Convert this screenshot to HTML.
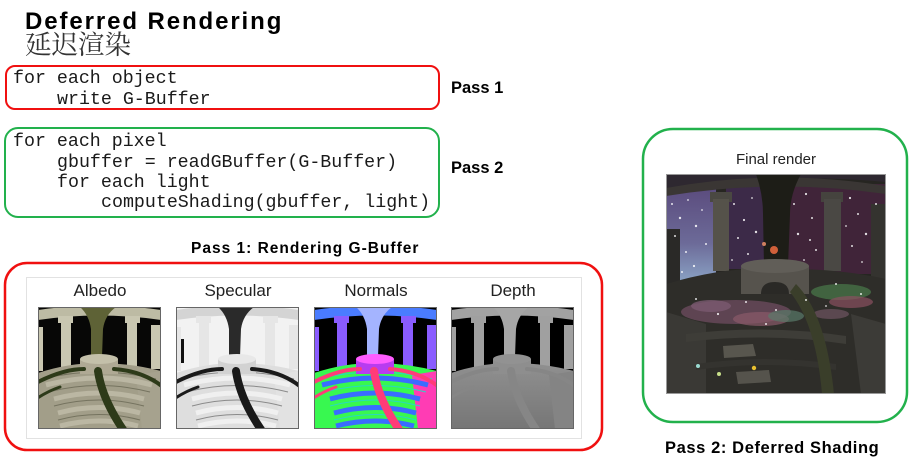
<!DOCTYPE html>
<html><head><meta charset="utf-8"><style>
html,body{margin:0;padding:0;background:#fff;}
body{width:913px;height:463px;overflow:hidden;}
svg text{font-family:"Liberation Sans",Arial,sans-serif;}
</style></head><body>
<svg width="913" height="463" viewBox="0 0 913 463" xmlns="http://www.w3.org/2000/svg">
<defs>
<symbol id="scene" viewBox="0 0 123 122">
<rect width="123" height="122" style="fill:var(--sky)"/>
<rect x="0" y="32" width="8" height="24" style="fill:var(--blot)"/>
<path d="M0 3 Q61 -6 123 3 L123 13 Q61 4 0 13 Z" style="fill:var(--arch)"/>
<rect x="113" y="18" width="10" height="44" style="fill:var(--col)"/>
<rect x="0" y="20" width="5" height="44" style="fill:var(--col)"/>
<rect x="20" y="9" width="15" height="7" style="fill:var(--col)"/>
<rect x="23" y="15" width="10" height="46" style="fill:var(--col)"/>
<rect x="87" y="9" width="15" height="7" style="fill:var(--col)"/>
<rect x="89" y="15" width="10" height="46" style="fill:var(--col)"/>
<path d="M42 0 L78 0 Q67 8 65 22 L64 50 L53 50 L53 22 Q51 8 42 0 Z" style="fill:var(--tree)"/>
<path d="M0 66 Q30 56 61 56 Q92 56 123 64 L123 122 L0 122 Z" style="fill:var(--floor)"/>
<path d="M98 68 L123 64 L123 122 L104 122 Z" style="fill:var(--side)"/>
<g fill="none" style="stroke:var(--stair)" stroke-width="5">
<path d="M8 78 Q61 64 114 78"/>
<path d="M16 92 Q61 80 106 92"/>
<path d="M20 106 Q61 95 102 106"/>
<path d="M22 119 Q61 109 100 119"/>
</g>
<g fill="none" style="stroke:var(--line)" stroke-width="1">
<path d="M4 72 Q61 58 118 72"/>
<path d="M10 85 Q61 72 112 85"/>
<path d="M16 99 Q61 87 106 99"/>
<path d="M20 113 Q61 102 102 113"/>
</g>
<rect x="42" y="52" width="38" height="15" style="fill:var(--well)"/>
<ellipse cx="61" cy="52" rx="19" ry="5" style="fill:var(--welltop)"/>
<g fill="none" style="stroke:var(--vine)" stroke-linecap="round">
<path d="M60 64 Q64 92 86 124" stroke-width="8"/>
<path d="M-2 76 Q25 62 46 62" stroke-width="4"/>
<path d="M76 62 Q105 64 125 80" stroke-width="4"/>
<path d="M-2 92 Q10 84 22 80" stroke-width="3"/>
</g>
</symbol>
<clipPath id="fr"><rect width="220" height="220"/></clipPath>
<linearGradient id="lsky" x1="0" y1="0" x2="0" y2="1"><stop offset="0" stop-color="#5a4a7c"/><stop offset="0.6" stop-color="#6c6a98"/><stop offset="1" stop-color="#8aa2c4"/></linearGradient>
<linearGradient id="dfl" x1="0" y1="0" x2="0" y2="1"><stop offset="0" stop-color="#909090"/><stop offset="1" stop-color="#767676"/></linearGradient>
</defs>

<!-- Title -->
<text x="25" y="29" font-size="24" font-weight="bold" letter-spacing="1.9" fill="#000">Deferred Rendering</text>
<text x="25" y="54" font-size="26.5" fill="#333" style="font-family:'Noto Serif CJK SC','Noto Sans CJK SC',serif">延迟渲染</text>

<!-- Code boxes -->
<rect x="6" y="66" width="433" height="43" rx="9" fill="none" stroke="#f01010" stroke-width="2"/>
<rect x="5" y="128" width="434" height="89" rx="13" fill="none" stroke="#22b14c" stroke-width="2"/>
<g font-size="18.3" fill="#1a1a1a">
<text x="13" y="83" style="font-family:'Liberation Mono',monospace">for each object</text>
<text x="57" y="104" style="font-family:'Liberation Mono',monospace">write G-Buffer</text>
<text x="13" y="146" style="font-family:'Liberation Mono',monospace">for each pixel</text>
<text x="57" y="167" style="font-family:'Liberation Mono',monospace">gbuffer = readGBuffer(G-Buffer)</text>
<text x="57" y="187" style="font-family:'Liberation Mono',monospace">for each light</text>
<text x="101" y="207" style="font-family:'Liberation Mono',monospace">computeShading(gbuffer, light)</text>
</g>
<text x="451" y="93" font-size="16.5" font-weight="bold" fill="#000">Pass 1</text>
<text x="451" y="173" font-size="16.5" font-weight="bold" fill="#000">Pass 2</text>

<!-- Pass 1 section -->
<text x="191" y="253" font-size="15.5" font-weight="bold" letter-spacing="1" fill="#000">Pass 1: Rendering G-Buffer</text>
<rect x="5" y="263" width="597" height="187" rx="22" fill="none" stroke="#f01010" stroke-width="2.5"/>
<rect x="26.5" y="277.5" width="555" height="161" fill="#fff" stroke="#e2e2e2" stroke-width="1"/>
<g font-size="17" fill="#222" text-anchor="middle">
<text x="100" y="296">Albedo</text>
<text x="238" y="296">Specular</text>
<text x="376" y="296">Normals</text>
<text x="513" y="296">Depth</text>
</g>

<use href="#scene" x="38" y="307" width="123" height="122" style="--sky:#070706;--blot:#070706;--arch:#bdbba4;--col:#c9c7b1;--tree:#5e6236;--floor:#a29e89;--side:#a6a28e;--stair:#bbb7a3;--line:#75735f;--well:#afa994;--welltop:#c4c0aa;--vine:#2d3a19"/>
<use href="#scene" x="176" y="307" width="123" height="122" style="--sky:#f2f2f2;--blot:#111;--arch:#d4d4d4;--col:#e6e6e6;--tree:#2a2a2a;--floor:#dedede;--side:#e2e2e2;--stair:#f0f0f0;--line:#8a8a8a;--well:#d2d2d2;--welltop:#e8e8e8;--vine:#1a1a1a"/>
<use href="#scene" x="314" y="307" width="123" height="122" style="--sky:#000;--blot:#000;--arch:#4a7cff;--col:#8a5cff;--tree:#a4b4ff;--floor:#38f850;--side:#ff3cb4;--stair:#3a6cff;--line:#2ad8c0;--well:#b83cf0;--welltop:#ff5cff;--vine:#ff3c78"/>
<use href="#scene" x="451" y="307" width="123" height="122" style="--sky:#000;--blot:#000;--arch:#a2a2a2;--col:#a0a0a0;--tree:#a6a6a6;--floor:url(#dfl);--side:#848484;--stair:transparent;--line:transparent;--well:#8e8e8e;--welltop:#929292;--vine:#868686"/>
<g fill="none" stroke="#666" stroke-width="1">
<rect x="38.5" y="307.5" width="122" height="121"/>
<rect x="176.5" y="307.5" width="122" height="121"/>
<rect x="314.5" y="307.5" width="122" height="121"/>
<rect x="451.5" y="307.5" width="122" height="121"/>
</g>

<!-- Pass 2 section -->
<rect x="643" y="129" width="264" height="293" rx="30" fill="none" stroke="#22b14c" stroke-width="2.5"/>
<text x="776" y="164" font-size="15" fill="#222" text-anchor="middle">Final render</text>
<g transform="translate(666,174)">
<g clip-path="url(#fr)">
<rect width="220" height="220" fill="#262521"/>
<rect x="0" y="10" width="50" height="98" fill="url(#lsky)"/>
<rect x="60" y="10" width="40" height="85" fill="#3c2a48"/>
<rect x="120" y="10" width="100" height="90" fill="#402439"/>
<path d="M0 0 L220 0 L220 8 Q110 -2 0 16 Z" fill="#2e2830"/>
<path d="M0 14 Q110 -6 220 12 L220 20 Q110 4 0 22 Z" fill="#3a3634"/>
<rect x="0" y="55" width="14" height="60" fill="#2a2927"/>
<rect x="44" y="18" width="22" height="10" fill="#4a4842"/>
<rect x="47" y="25" width="16" height="72" fill="#55524a"/>
<rect x="155" y="18" width="22" height="10" fill="#45433e"/>
<rect x="158" y="25" width="17" height="72" fill="#4a4844"/>
<rect x="205" y="30" width="15" height="80" fill="#34332f"/>
<path d="M90 0 L135 0 Q124 20 124 40 L122 92 L98 92 L97 40 Q97 20 90 0 Z" fill="#1d1d17"/>
<path d="M0 110 Q60 92 110 95 Q170 94 220 105 L220 220 L0 220 Z" fill="#2e2d29"/>
<ellipse cx="70" cy="138" rx="55" ry="12" fill="#6a4a5c" opacity="0.8"/>
<ellipse cx="45" cy="132" rx="20" ry="6" fill="#7a5a70" opacity="0.8"/>
<ellipse cx="95" cy="145" rx="28" ry="7" fill="#8a5a6a" opacity="0.7"/>
<ellipse cx="120" cy="142" rx="18" ry="6" fill="#5a7a6a" opacity="0.7"/>
<ellipse cx="175" cy="118" rx="30" ry="8" fill="#4a7a4a" opacity="0.7"/>
<ellipse cx="185" cy="128" rx="22" ry="6" fill="#8a5060" opacity="0.7"/>
<ellipse cx="165" cy="140" rx="18" ry="5" fill="#7a5a6a" opacity="0.6"/>
<rect x="75" y="92" width="68" height="28" fill="#56534d"/>
<ellipse cx="109" cy="92" rx="34" ry="7" fill="#615e58"/>
<path d="M95 120 Q95 108 109 108 Q123 108 123 120 Z" fill="#2a2926"/>
<path d="M0 138 L40 150 L40 220 L0 220 Z" fill="#3a3935"/>
<path d="M20 160 Q100 150 180 162 L180 170 Q100 158 20 168 Z" fill="#3e3d38"/>
<path d="M30 190 Q100 180 170 190 L170 196 Q100 186 30 196 Z" fill="#34332f"/>
<path d="M57 172 L87 170 L90 182 L58 184 Z" fill="#58564e"/>
<path d="M70 198 L103 196 L105 208 L72 210 Z" fill="#55534c"/>
<path d="M130 110 Q160 140 168 220 L156 220 Q150 150 124 118 Z" fill="#3a3e2a"/>
<path d="M185 140 L220 150 L220 220 L195 220 Z" fill="#3c3b37"/>
<g fill="#fff" opacity="0.85">
<circle cx="6" cy="30" r="1"/><circle cx="14" cy="44" r="1.2"/><circle cx="22" cy="26" r="0.9"/><circle cx="9" cy="62" r="1"/><circle cx="30" cy="52" r="1.2"/><circle cx="20" cy="78" r="1"/><circle cx="36" cy="36" r="0.9"/><circle cx="28" cy="92" r="1.1"/><circle cx="40" cy="70" r="1"/><circle cx="16" cy="98" r="1"/>
<circle cx="68" cy="30" r="1"/><circle cx="78" cy="46" r="1.1"/><circle cx="86" cy="24" r="0.9"/><circle cx="72" cy="64" r="1"/><circle cx="90" cy="58" r="1.2"/><circle cx="82" cy="80" r="1"/><circle cx="66" cy="86" r="0.9"/>
<circle cx="128" cy="30" r="1"/><circle cx="140" cy="20" r="1.1"/><circle cx="146" cy="44" r="1"/><circle cx="132" cy="60" r="1.2"/><circle cx="150" cy="76" r="1"/><circle cx="138" cy="86" r="0.9"/><circle cx="184" cy="24" r="1.1"/><circle cx="192" cy="40" r="1"/><circle cx="200" cy="60" r="1.2"/><circle cx="186" cy="72" r="1"/><circle cx="196" cy="88" r="0.9"/><circle cx="210" cy="30" r="1"/><circle cx="180" cy="52" r="0.9"/><circle cx="144" cy="66" r="1"/>
<circle cx="30" cy="125" r="1"/><circle cx="52" cy="140" r="1.1"/><circle cx="80" cy="128" r="1"/><circle cx="110" cy="136" r="1"/><circle cx="140" cy="126" r="1"/><circle cx="170" cy="110" r="1"/><circle cx="195" cy="120" r="1"/><circle cx="160" cy="132" r="0.9"/><circle cx="100" cy="150" r="1"/>
</g>
<circle cx="108" cy="76" r="4" fill="#d0603a"/>
<circle cx="98" cy="70" r="2" fill="#d08060"/>
<circle cx="32" cy="192" r="2" fill="#9adad0"/>
<circle cx="53" cy="200" r="2" fill="#c8e08a"/>
<circle cx="88" cy="194" r="2.2" fill="#e8c030"/>
</g>
<rect x="0.5" y="0.5" width="219" height="219" fill="none" stroke="#999" stroke-width="1"/>
</g>
<text x="665" y="453" font-size="16.5" font-weight="bold" letter-spacing="0.6" fill="#000">Pass 2: Deferred Shading</text>
</svg>
</body></html>
